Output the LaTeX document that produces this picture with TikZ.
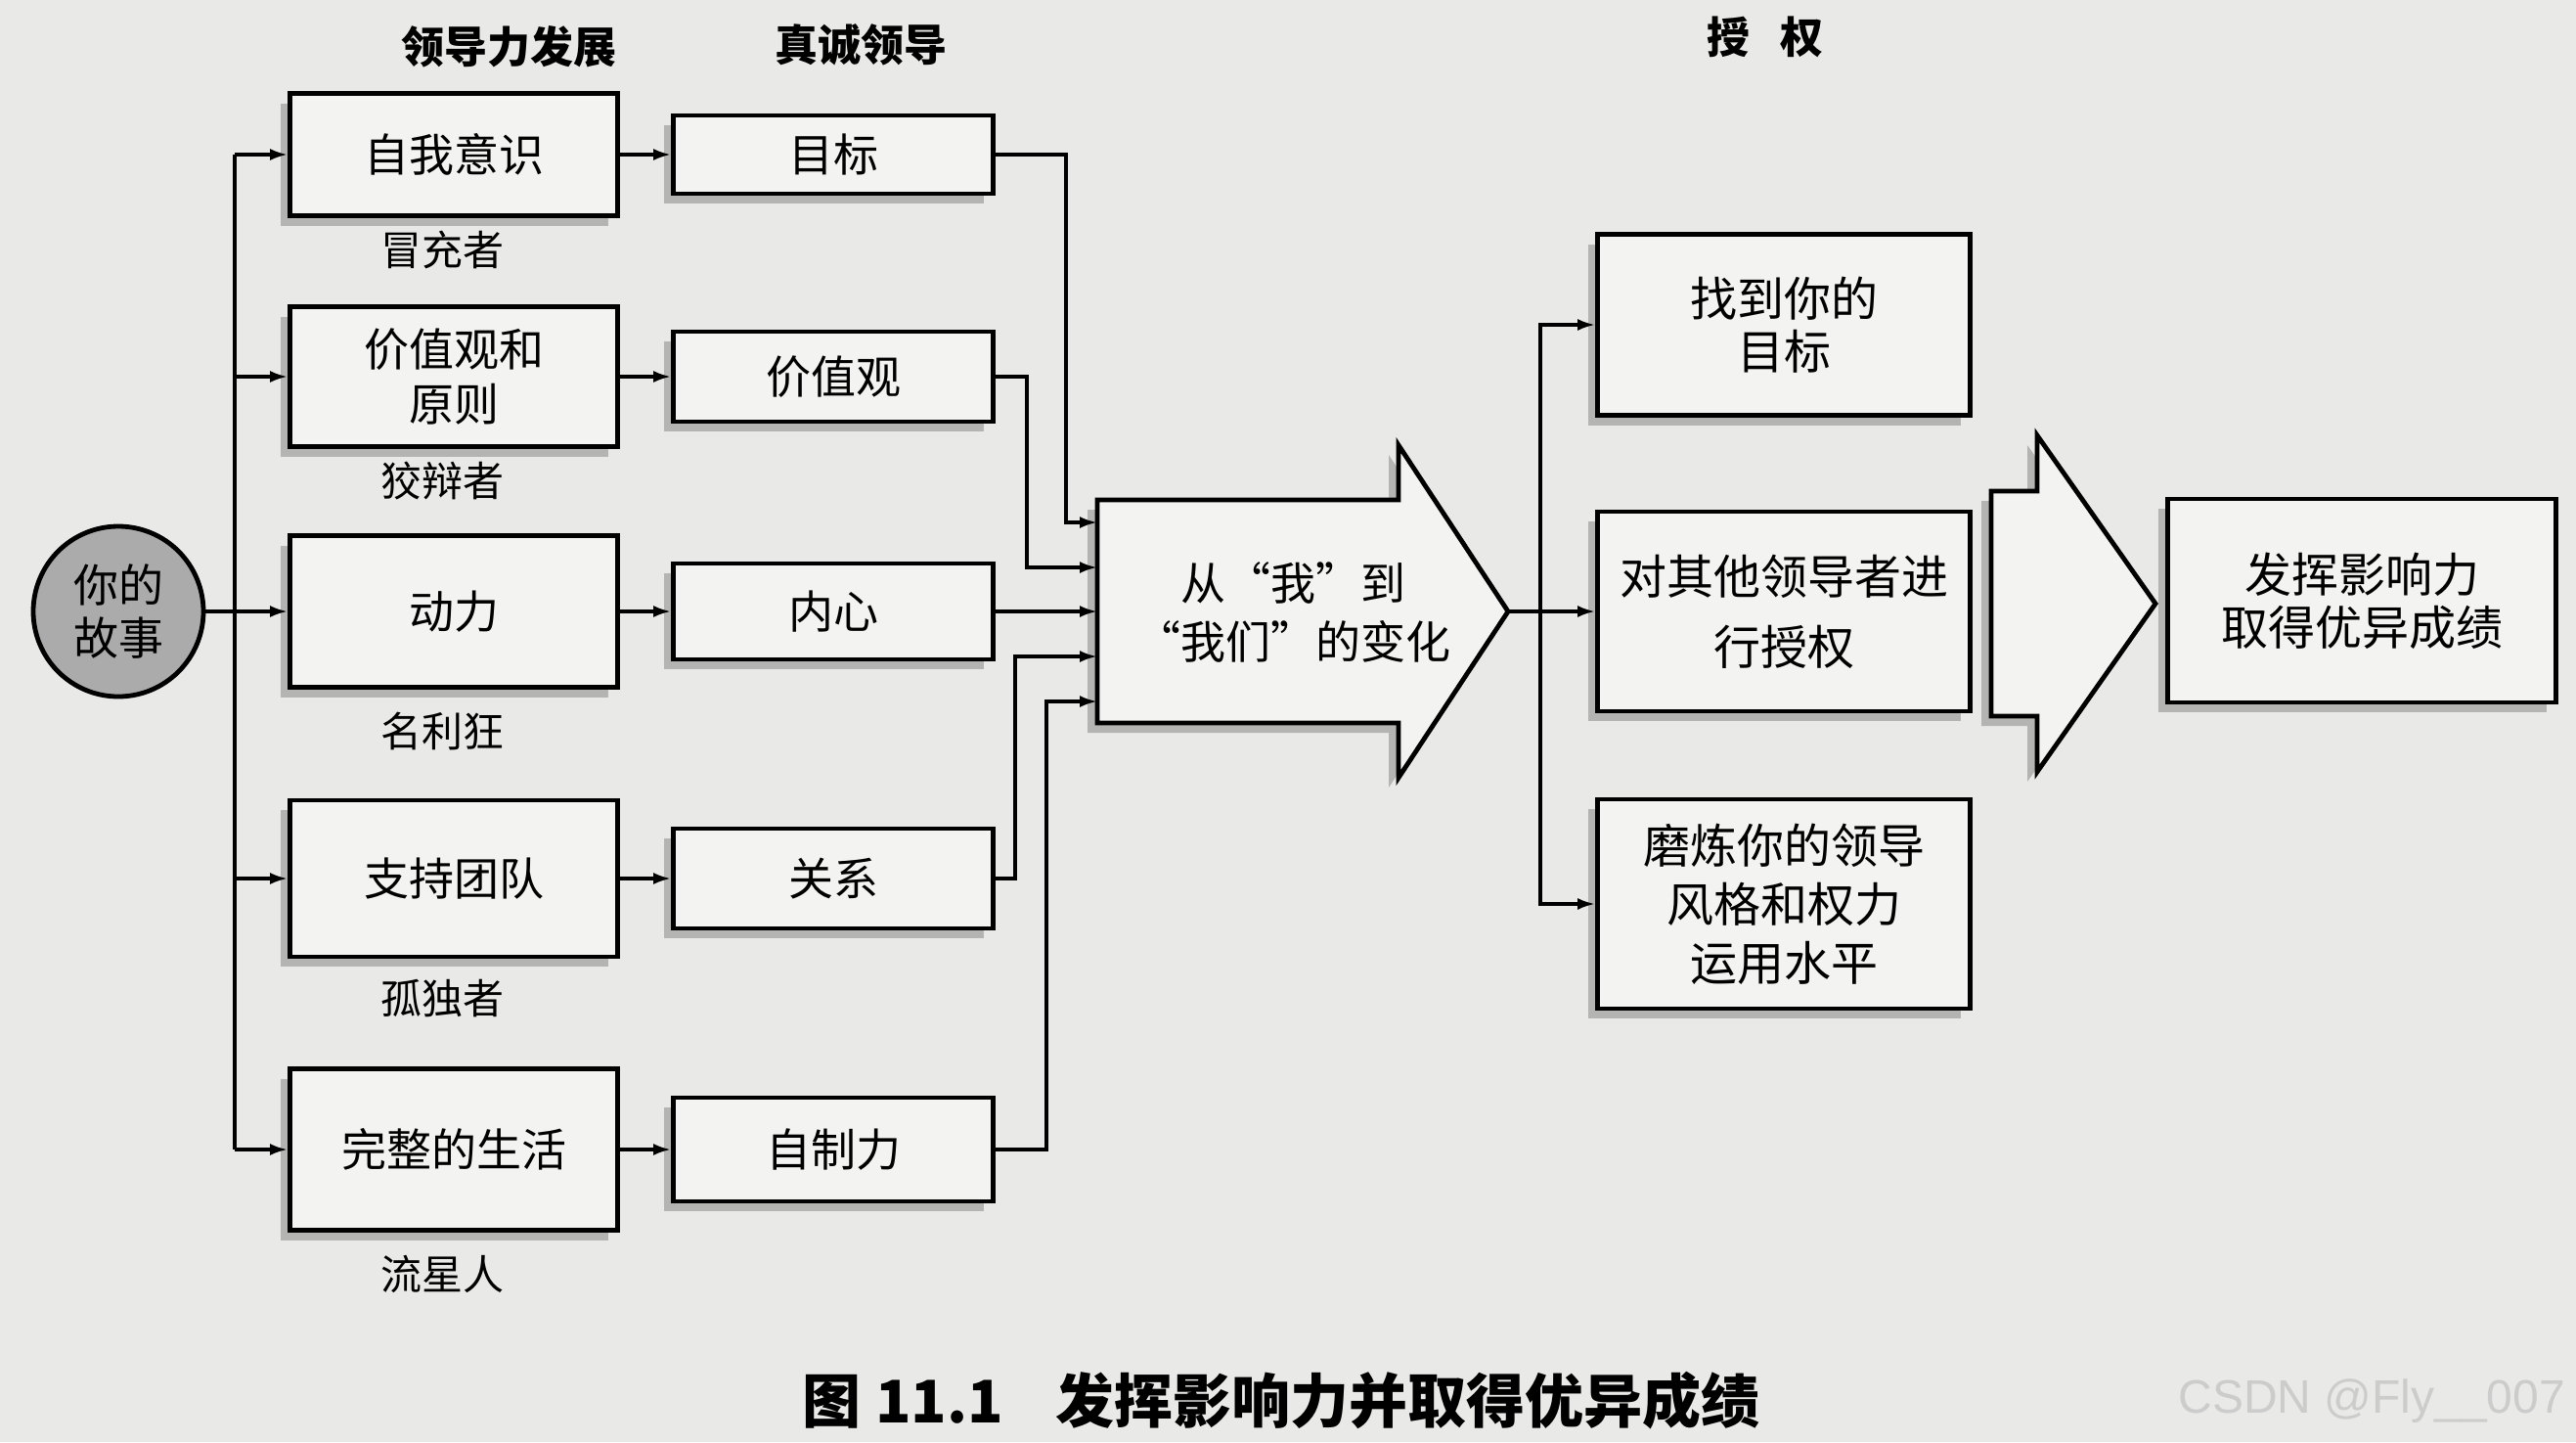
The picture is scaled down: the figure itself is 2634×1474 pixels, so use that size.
\documentclass[tikz,border=0pt]{standalone}
\usepackage{fontspec}
\setmainfont{Noto Sans CJK SC}
\newfontfamily\wmfont{Liberation Sans}
\usetikzlibrary{arrows.meta,shadows,calc}
\definecolor{paper}{HTML}{E9E9E7}
\definecolor{boxfill}{HTML}{F3F3F1}
\definecolor{circfill}{HTML}{ABABAB}
\definecolor{shadowc}{HTML}{8A8A8A}
\begin{document}
\begin{tikzpicture}[x=0.5pt,y=-0.5pt,
  shadowed/.style={drop shadow={shadow xshift=-5pt,shadow yshift=-5pt,fill=shadowc,opacity=0.55}},
  box/.style={draw=black, line width=2.4pt, fill=boxfill, align=center, inner sep=0pt, shadowed, font=\fontsize{23}{28}\selectfont},
  rbox/.style={box, font=\fontsize{24}{28}\selectfont},
  bigarrow/.style={draw=black, line width=2.4pt, fill=boxfill, shadowed, line join=miter},
  conn/.style={line width=1.6pt, draw=black},
  arr/.style={conn, -{Latex[length=9pt,width=6pt]}},
  lab/.style={font=\fontsize{21}{26}\selectfont},
  head/.style={font=\bfseries\fontsize{22}{26}\selectfont},
]
\fill[paper] (0,0) rectangle (2634,1474);
\useasboundingbox (0,0) rectangle (2634,1474);

% headers
\node[head] (h1) at (520,48) {领导力发展};
\node[head] (h2) at (880,46) {真诚领导};
\node[head] (h3) at (1805,38) {授\hspace{0.7em}权};

% start circle
\node[circle, draw=black, line width=2.4pt, fill=circfill, minimum size=87pt, inner sep=0pt, align=center, font=\fontsize{23}{27}\selectfont] (c) at (121,625) {你的\\故事};

% column 1
\node[box, minimum width=167.5pt, minimum height=62.5pt] (b1) at (464,158) {自我意识};
\node[box, minimum width=167.5pt, minimum height=71.5pt] (b2) at (464,385) {价值观和\\原则};
\node[box, minimum width=167.5pt, minimum height=77.5pt] (b3) at (464,625) {动力};
\node[box, minimum width=167.5pt, minimum height=80pt] (b4) at (464,898) {支持团队};
\node[box, minimum width=167.5pt, minimum height=82.5pt] (b5) at (464,1175) {完整的生活};

\node[lab] (l1) at (452,255) {冒充者};
\node[lab] (l2) at (452,492) {狡辩者};
\node[lab] (l3) at (452,747) {名利狂};
\node[lab] (l4) at (452,1020) {孤独者};
\node[lab] (l5) at (452,1302) {流星人};

% column 2
\node[box, minimum width=163.5pt, minimum height=40pt] (n1) at (852,158) {目标};
\node[box, minimum width=163.5pt, minimum height=46pt] (n2) at (852,385) {价值观};
\node[box, minimum width=163.5pt, minimum height=49pt] (n3) at (852,625) {内心};
\node[box, minimum width=163.5pt, minimum height=51pt] (n4) at (852,898) {关系};
\node[box, minimum width=163.5pt, minimum height=53pt] (n5) at (852,1175) {自制力};

% big arrow A
\draw[bigarrow] (1122,511) -- (1430,511) -- (1430,455) -- (1542,625) -- (1430,795) -- (1430,739) -- (1122,739) -- cycle;
\node[align=center, font=\fontsize{23}{30}\selectfont] (Atext) at (1322,626) {从“我”到\\“我们”的变化};
\coordinate (Atip) at (1542,625);
\coordinate (A1) at (1122,534);
\coordinate (A2) at (1122,580);
\coordinate (A4) at (1122,671);
\coordinate (A5) at (1122,717);

% right column
\node[rbox, minimum width=190.5pt, minimum height=92.5pt, font=\fontsize{24}{27}\selectfont] (r1) at (1824,332) {找到你的\\目标};
\node[rbox, minimum width=190.5pt, minimum height=102pt, font=\fontsize{24}{36}\selectfont] (r2) at (1824,625) {对其他领导者进\\行授权};
\node[rbox, minimum width=190.5pt, minimum height=107pt, font=\fontsize{24}{30}\selectfont] (r3) at (1824,924) {磨炼你的领导\\风格和权力\\运用水平};

% big arrow B
\draw[bigarrow] (2036,502) -- (2083,502) -- (2083,445) -- (2204,617) -- (2083,789) -- (2083,732) -- (2036,732) -- cycle;

% final box
\node[rbox, minimum width=198.5pt, minimum height=104pt, font=\fontsize{24}{27}\selectfont] (F) at (2415,614) {发挥影响力\\取得优异成绩};

% connectors: left trunk
\coordinate (t1) at (240,158);
\coordinate (t5) at (240,1175);
\draw[conn] (t1) -- (t5);
\draw[arr] (t1) -- (b1.west);
\draw[arr] (240,385) -- (b2.west);
\draw[arr] (c.east) -- (b3.west);
\draw[arr] (240,898) -- (b4.west);
\draw[arr] (t5) -- (b5.west);

% column 1 -> column 2
\draw[arr] (b1.east) -- (n1.west);
\draw[arr] (b2.east) -- (n2.west);
\draw[arr] (b3.east) -- (n3.west);
\draw[arr] (b4.east) -- (n4.west);
\draw[arr] (b5.east) -- (n5.west);

% column 2 -> big arrow
\draw[arr] (n1.east) -| (1090,534) -- (A1);
\draw[arr] (n2.east) -| (1050,580) -- (A2);
\draw[arr] (n3.east) -- (1122,625);
\draw[arr] (n4.east) -| (1038,671) -- (A4);
\draw[arr] (n5.east) -| (1070,717) -- (A5);

% big arrow -> right column
\coordinate (rt) at (1575,625);
\draw[conn] (Atip) -- (rt);
\draw[arr] (rt) -- (r2.west);
\draw[arr] (rt) |- (r1.west);
\draw[arr] (rt) |- (r3.west);

% caption and watermark
\node[font=\bfseries\fontsize{30}{34}\selectfont] (cap) at (1310,1432) {图\hspace{0.25em}11.1\hspace{0.9em}发挥影响力并取得优异成绩};
\node[font=\wmfont\fontsize{24}{28}\selectfont, text=gray!40, anchor=east] (wm) at (2630,1432) {CSDN @Fly\_\_007};
\end{tikzpicture}
\end{document}
